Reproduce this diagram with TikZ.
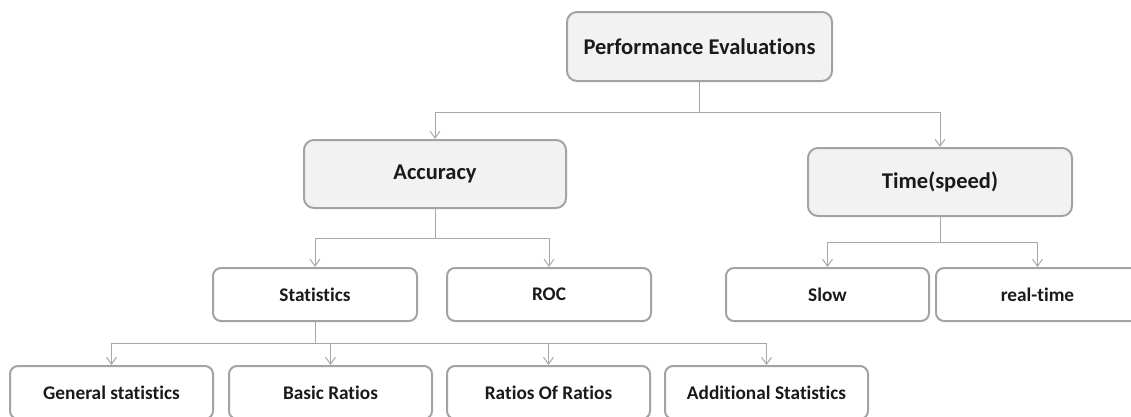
\documentclass[tikz,border=0pt]{standalone}
\usepackage{fontspec}
\setmainfont{Carlito}[Ligatures={NoCommon}]
\usetikzlibrary{arrows.meta}
\definecolor{boxline}{HTML}{A3A3A3}
\definecolor{connline}{HTML}{A8A8A8}
\definecolor{boxfill}{HTML}{F2F2F2}
\definecolor{txt}{HTML}{1A1A1A}
\tikzset{
  bigbox/.style={draw=boxline, line width=2pt, rounded corners=10pt, fill=boxfill,
    minimum width=263pt, minimum height=68pt, inner sep=0pt, text=txt,
    font=\fontsize{22.5}{26}\selectfont\bfseries},
  smallbox/.style={draw=boxline, line width=2pt, rounded corners=8pt, fill=white,
    minimum width=203pt, minimum height=53pt, inner sep=0pt, text=txt,
    font=\fontsize{19.3}{23}\selectfont\bfseries},
  conn/.style={draw=connline, line width=1pt,
    -{Straight Barb[length=7pt,width=10pt,line width=1pt]}}
}
\begin{document}
\begin{tikzpicture}[x=1pt,y=-1pt]
\useasboundingbox (0,0) rectangle (1131,416);
\clip (0,0) rectangle (1131,416);
\node[bigbox, minimum width=265pt, minimum height=69pt] (perf) at (699.5,46.5) {Performance Evaluations};
\node[bigbox, minimum width=262pt] (acc) at (435,174) {Accuracy};
\node[bigbox, minimum width=264pt] (time) at (940,182) {Time(speed)};
\node[smallbox, minimum width=204pt] (stat) at (315,294.5) {Statistics};
\node[smallbox, minimum width=204pt] (roc) at (549,294.5) {ROC};
\node[smallbox] (slow) at (827.5,294.5) {Slow};
\node[smallbox] (rt) at (1037.5,294.5) {real-time};
\node[smallbox] (gen) at (111.5,392.5) {General statistics};
\node[smallbox] (basic) at (330.5,392.5) {Basic Ratios};
\node[smallbox] (ror) at (548.5,392.5) {Ratios Of Ratios};
\node[smallbox] (add) at (766.5,392.5) {Additional Statistics};

\coordinate (pj) at (699.5,112);
\coordinate (aj) at (435,238);
\coordinate (tj) at (940,242);
\coordinate (sj) at (315,343);
\draw[draw=connline, line width=1pt] (perf.south) -- (pj);
\draw[conn] (pj) -| (acc.north);
\draw[conn] (pj) -| (time.north);
\draw[draw=connline, line width=1pt] (acc.south) -- (aj);
\draw[conn] (aj) -| (stat.north);
\draw[conn] (aj) -| (roc.north);
\draw[draw=connline, line width=1pt] (time.south) -- (tj);
\draw[conn] (tj) -| (slow.north);
\draw[conn] (tj) -| (rt.north);
\draw[draw=connline, line width=1pt] (stat.south) -- (sj);
\draw[conn] (sj) -| (gen.north);
\draw[conn] (sj) -| (basic.north);
\draw[conn] (sj) -| (ror.north);
\draw[conn] (sj) -| (add.north);
\end{tikzpicture}
\end{document}
